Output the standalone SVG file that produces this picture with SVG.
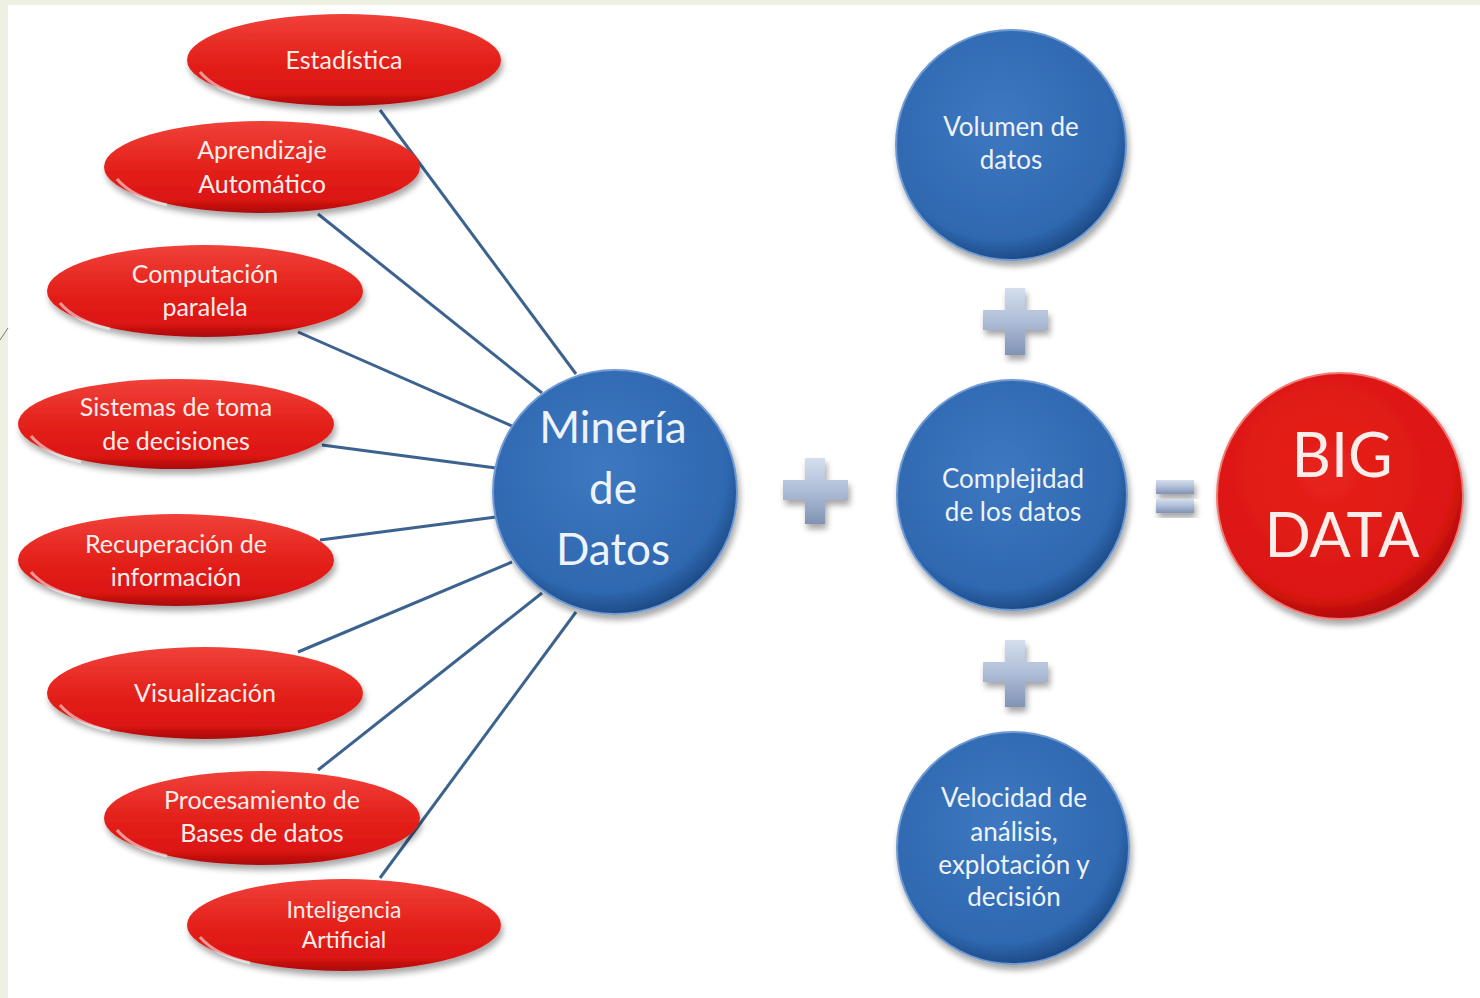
<svg xmlns="http://www.w3.org/2000/svg" width="1480" height="998" viewBox="0 0 1480 998">
<defs>
<linearGradient id="redG" x1="0" y1="0" x2="0" y2="1">
<stop offset="0" stop-color="#f0413a"/>
<stop offset="0.5" stop-color="#e4211b"/>
<stop offset="0.85" stop-color="#dc1512"/>
<stop offset="1" stop-color="#a80a0a"/>
</linearGradient>
<radialGradient id="redC" cx="0.45" cy="0.4" r="0.6">
<stop offset="0" stop-color="#e8221c"/>
<stop offset="0.85" stop-color="#dc1612"/>
<stop offset="1" stop-color="#b20c0c"/>
</radialGradient>
<radialGradient id="blueC" cx="0.45" cy="0.4" r="0.6">
<stop offset="0" stop-color="#3d78c0"/>
<stop offset="0.85" stop-color="#2f68b0"/>
<stop offset="1" stop-color="#1e4c88"/>
</radialGradient>
<linearGradient id="plusG" x1="0" y1="0" x2="0" y2="1">
<stop offset="0" stop-color="#d4deee"/>
<stop offset="0.5" stop-color="#aebdd6"/>
<stop offset="1" stop-color="#8193b4"/>
</linearGradient>
<filter id="sh" x="-20%" y="-20%" width="140%" height="150%">
<feGaussianBlur in="SourceAlpha" stdDeviation="3"/>
<feOffset dx="2" dy="5" result="o"/>
<feComponentTransfer><feFuncA type="linear" slope="0.35"/></feComponentTransfer>
<feMerge><feMergeNode/><feMergeNode in="SourceGraphic"/></feMerge>
</filter>
</defs>
<style>
.t{font-family:Lato,"Open Sans",sans-serif;fill:#fbeeea;text-anchor:middle}
.tb{font-family:Lato,"Open Sans",sans-serif;fill:#eef3fa;text-anchor:middle}
.e{fill:url(#redG);filter:url(#sh)}
.hl{fill:none;stroke:#ffffff;stroke-opacity:0.55;stroke-width:3}
.cb{fill:url(#blueC);stroke:#6f9ad3;stroke-width:2;filter:url(#sh)}
.cr{fill:url(#redC);stroke:#f07a74;stroke-width:2;filter:url(#sh)}
.ln{stroke:#3c6290;stroke-width:3;fill:none}
.pl{fill:url(#plusG);filter:url(#sh)}
</style>
<rect x="0" y="0" width="1480" height="998" fill="#eef0e1"/>
<rect x="8" y="5" width="1472" height="993" fill="#ffffff"/>
<line x1="8" y1="328" x2="0" y2="340" stroke="#7a7a6a" stroke-width="1"/>
<g id="connectors">
<line class="ln" x1="380" y1="110" x2="576" y2="374"/>
<line class="ln" x1="318" y1="214" x2="542" y2="393"/>
<line class="ln" x1="298" y1="332" x2="512" y2="426"/>
<line class="ln" x1="322" y1="445" x2="496" y2="468"/>
<line class="ln" x1="320" y1="540" x2="496" y2="517"/>
<line class="ln" x1="298" y1="652" x2="512" y2="562"/>
<line class="ln" x1="318" y1="770" x2="542" y2="593"/>
<line class="ln" x1="380" y1="878" x2="576" y2="612"/>
</g>
<g id="estadistica">
<ellipse class="e" cx="344" cy="60" rx="157" ry="46"/>
<path class="hl" d="M200,72 Q215,90 250,98"/>
<text class="t" x="344" y="69" font-size="25">Estadística</text>
</g>
<g id="aprendizaje">
<ellipse class="e" cx="262" cy="167" rx="158" ry="46"/>
<path class="hl" d="M117,179 Q132,197 167,205"/>
<text class="t" x="262" y="159" font-size="25">Aprendizaje</text>
<text class="t" x="262" y="193" font-size="25">Automático</text>
</g>
<g id="computacion">
<ellipse class="e" cx="205" cy="291" rx="158" ry="46"/>
<path class="hl" d="M60,303 Q75,321 110,329"/>
<text class="t" x="205" y="283" font-size="25">Computación</text>
<text class="t" x="205" y="316" font-size="25">paralela</text>
</g>
<g id="sistemas">
<ellipse class="e" cx="176" cy="424" rx="158" ry="45"/>
<path class="hl" d="M31,436 Q46,454 81,462"/>
<text class="t" x="176" y="416" font-size="25">Sistemas de toma</text>
<text class="t" x="176" y="450" font-size="25">de decisiones</text>
</g>
<g id="recuperacion">
<ellipse class="e" cx="176" cy="560" rx="158" ry="46"/>
<path class="hl" d="M31,572 Q46,590 81,598"/>
<text class="t" x="176" y="553" font-size="25">Recuperación de</text>
<text class="t" x="176" y="586" font-size="25">información</text>
</g>
<g id="visualizacion">
<ellipse class="e" cx="205" cy="693" rx="158" ry="46"/>
<path class="hl" d="M60,705 Q75,723 110,731"/>
<text class="t" x="205" y="702" font-size="25">Visualización</text>
</g>
<g id="procesamiento">
<ellipse class="e" cx="262" cy="818" rx="158" ry="47"/>
<path class="hl" d="M117,830 Q132,848 167,856"/>
<text class="t" x="262" y="809" font-size="25">Procesamiento de</text>
<text class="t" x="262" y="842" font-size="25">Bases de datos</text>
</g>
<g id="inteligencia">
<ellipse class="e" cx="344" cy="925" rx="157" ry="46"/>
<path class="hl" d="M200,937 Q215,955 250,963"/>
<text class="t" x="344" y="918" font-size="23">Inteligencia</text>
<text class="t" x="344" y="948" font-size="23">Artificial</text>
</g>
<g id="mineria">
<circle class="cb" cx="615" cy="492" r="122"/>
<text class="tb" x="613" y="443" font-size="44">Minería</text>
<text class="tb" x="613" y="504" font-size="44">de</text>
<text class="tb" x="613" y="565" font-size="44">Datos</text>
</g>
<g id="volumen">
<circle class="cb" cx="1011" cy="145" r="115"/>
<text class="tb" x="1011" y="136" font-size="26">Volumen de</text>
<text class="tb" x="1011" y="169" font-size="26">datos</text>
</g>
<g id="complejidad">
<circle class="cb" cx="1012" cy="495" r="115"/>
<text class="tb" x="1013" y="488" font-size="26">Complejidad</text>
<text class="tb" x="1013" y="521" font-size="26">de los datos</text>
</g>
<g id="velocidad">
<circle class="cb" cx="1013" cy="848" r="116"/>
<text class="tb" x="1014" y="807" font-size="26">Velocidad de</text>
<text class="tb" x="1014" y="841" font-size="26">análisis,</text>
<text class="tb" x="1014" y="874" font-size="26">explotación y</text>
<text class="tb" x="1014" y="906" font-size="26">decisión</text>
</g>
<g id="bigdata">
<circle class="cr" cx="1340" cy="496" r="123"/>
<text class="t" x="1342" y="477" font-size="61">BIG</text>
<text class="t" x="1342" y="557" font-size="61">DATA</text>
</g>
<g id="plus1">
<path class="pl" d="M805,458 h20 v22 h23 v20 h-23 v24 h-20 v-24 h-22 v-20 h22 z"/>
</g>
<g id="plus2">
<path class="pl" d="M1005,288 h20 v22 h23 v20 h-23 v25 h-20 v-25 h-22 v-20 h22 z"/>
</g>
<g id="plus3">
<path class="pl" d="M1005,640 h20 v22 h23 v20 h-23 v25 h-20 v-25 h-22 v-20 h22 z"/>
</g>
<g id="equals">
<rect class="pl" x="1156" y="480" width="38" height="14"/>
<rect class="pl" x="1156" y="499" width="38" height="14"/>
</g>
</svg>
